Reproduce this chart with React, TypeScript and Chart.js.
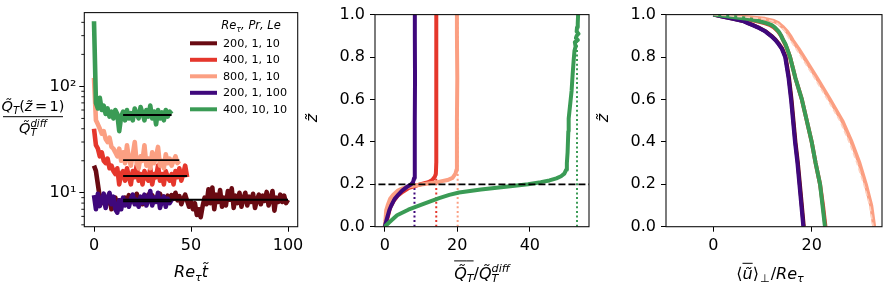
import React, { useEffect, useRef } from "react";
import { Chart, registerables } from "chart.js";
Chart.register(...registerables);

const FAM = "'DejaVu Sans', sans-serif";

// ---------------- Panel 1 data (time series, step 1 in Re_tau t) ----------------
const legendLabels = ["200, 1, 10", "400, 1, 10", "800, 1, 10", "200, 1, 100", "400, 10, 10"];
const seriesColors = ["#690a12", "#e5372c", "#fb9f82", "#3f087c", "#3a9b55"];
const timeStep = 1;

const q200_1_10 = [18, 16, 12, 9, 8, 9.5, 7.5, 8.5, 9, 7, 8, 9, 7.5, 8.5, 7.8, 8.2, 9, 8, 9.5, 8.6, 9.2, 8, 9.8, 8.5, 9, 7.8, 9.4, 8.3, 9.6, 8.8, 9.5, 8.2, 9, 8.4, 9.8, 8.7, 9.2, 8, 9.4, 8.6, 9.5, 8.8, 10, 8.5, 9.3, 7.8, 8.8, 9.6, 8.4, 7.4, 8.2, 7, 8, 6.2, 7, 5.9, 7.5, 9, 7.8, 10.8, 8, 11.2, 7, 9.6, 8.2, 10.6, 7.4, 9, 7.6, 10.4, 8.6, 11, 7.2, 9.4, 8, 10, 7.4, 8.8, 10, 7.6, 9.2, 8.2, 9.8, 7.2, 8.6, 9.6, 7.8, 9.4, 8.4, 10.2, 7.6, 8.8, 10.4, 6.8, 9, 8.2, 9.6, 8.2, 9.4, 8, 8.6];
const q400_1_10 = [40, 28, 26, 22, 24, 20, 19, 21, 17, 18, 16, 15, 17, 12, 15, 16, 13, 17, 14, 12, 16, 14, 18, 13, 15, 12, 16, 14, 13, 17, 12, 15, 14, 18, 13, 15, 12, 16, 14, 13, 15, 12, 16, 14, 17, 13, 15, 18, 14];
const q800_1_10 = [120, 48, 44, 40, 36, 38, 32, 30, 33, 27, 26, 24, 22, 26, 20, 24, 19, 28, 21, 18, 23, 30, 19, 17, 22, 20, 28, 18, 21, 17, 24, 19, 22, 27, 18, 20, 17, 23, 19, 21, 18, 20, 22, 19, 20];
const q200_1_100 = [9.5, 7, 9.8, 7.5, 8.5, 9.8, 7.2, 9, 10, 7.8, 9.2, 7, 6.5, 8.5, 7, 9, 7.6, 8.4, 7.4, 8.8, 9.6, 7.8, 8.6, 7.4, 9.2, 8, 9.6, 7.6, 8.6, 10.4, 7.6, 9, 8.2, 10, 7.2, 8.4, 9.2, 7.4, 8.8, 8, 8.6];
const q400_10_10 = [410, 70, 62, 78, 60, 66, 55, 62, 52, 58, 50, 60, 55, 38, 52, 58, 48, 60, 50, 56, 48, 62, 55, 50, 64, 56, 48, 60, 52, 66, 50, 58, 44, 60, 50, 57, 48, 60, 52, 58, 55];
const meanStart = [15, 15, 15, 15, 15];
const meanEnd = [100, 48, 44, 40, 40];
const meanValue = [8.6, 14.4, 20.3, 8.3, 53.8];
const logMajor = [10, 100];
const logMinor = [5, 6, 7, 8, 9, 20, 30, 40, 50, 60, 70, 80, 90, 200, 300, 400];

// ---------------- Panel 2 data (heat-flux profiles) ----------------
const zPurple2 = [0, 0.02, 0.05, 0.08, 0.1, 0.13, 0.15, 0.17, 0.19, 0.2, 0.21, 0.23, 0.25, 0.3, 0.5, 0.7, 0.9, 1.0];
const qPurple2 = [0, 0.3, 0.8, 1.3, 1.8, 2.7, 3.7, 4.8, 6.3, 7.3, 7.8, 8.1, 8.25, 8.3, 8.3, 8.35, 8.3, 8.3];
const zRed2 = [0, 0.02, 0.05, 0.09, 0.12, 0.145, 0.165, 0.183, 0.2, 0.21, 0.22, 0.235, 0.25, 0.3, 0.5, 0.7, 0.9, 1.0];
const qRed2 = [0, 0.4, 0.9, 1.5, 2.4, 3.5, 5.0, 6.7, 9.9, 12.0, 13.1, 13.8, 14.1, 14.2, 14.2, 14.25, 14.2, 14.2];
const zSalmon2 = [0, 0.03, 0.077, 0.1, 0.132, 0.15, 0.169, 0.18, 0.19, 0.2, 0.21, 0.22, 0.23, 0.25, 0.27, 0.3, 0.5, 0.7, 0.9, 1.0];
const qSalmon2 = [0, 0.2, 0.4, 0.8, 1.5, 2.3, 3.5, 4.8, 7.0, 10.5, 14.5, 17.3, 18.7, 19.5, 19.8, 19.9, 19.9, 20.0, 19.9, 19.9];
const zGreen2 = [0, 0.02, 0.054, 0.08, 0.108, 0.135, 0.15, 0.161, 0.175, 0.19, 0.2, 0.21, 0.218, 0.228, 0.238, 0.25, 0.268, 0.3, 0.35, 0.45, 0.51, 0.64, 0.72, 0.79, 0.83, 0.85, 0.87, 0.88, 0.89, 0.9, 0.91, 0.92, 0.94, 0.96, 1.0];
const qGreen2 = [0, 1.2, 3.4, 6.5, 10.7, 15.0, 17.8, 20.5, 26.5, 34.0, 39.5, 43.0, 45.4, 47.3, 48.6, 49.5, 50.0, 50.2, 50.4, 50.6, 50.7, 51.5, 51.8, 52.1, 52.3, 52.6, 52.4, 53.2, 52.7, 52.9, 53.4, 52.9, 53.0, 53.2, 53.3];
const dottedMeans = [8.2, 14.2, 20.1, 53.0];
const dottedColors = ["#3f087c", "#e5372c", "#fb9f82", "#3a9b55"];
const interfaceZ = 0.2;

// ---------------- Panel 3 data (velocity profiles) ----------------
const z3 = [1.0, 0.99, 0.98, 0.97, 0.96, 0.95, 0.94, 0.92, 0.9, 0.88, 0.86, 0.84, 0.8, 0.7, 0.6, 0.5, 0.4, 0.3, 0.2, 0.1, 0.0];
const uDarkRed3 = [0, 2.1, 4.1, 6.1, 7.1, 8.1, 9.1, 10.7, 11.8, 12.7, 13.4, 14.0, 14.7, 15.4, 15.9, 16.3, 16.7, 17.2, 17.6, 18.0, 18.4];
const uPurple3 = [0, 2.0, 4.0, 6.0, 7.0, 8.0, 9.0, 10.6, 11.7, 12.6, 13.3, 13.9, 14.6, 15.3, 15.8, 16.2, 16.6, 17.1, 17.5, 17.9, 18.3];
const uRed3 = [0, 3.3, 6.3, 8.7, 10.4, 11.6, 12.3, 13.2, 13.8, 14.2, 14.6, 15.0, 15.6, 16.7, 18.0, 19.0, 20.0, 20.8, 21.7, 22.3, 22.8];
const uGreen3 = [0, 3.5, 6.8, 9.2, 10.8, 11.9, 12.5, 13.3, 13.8, 14.2, 14.7, 15.0, 15.6, 16.7, 18.0, 19.0, 20.0, 20.8, 21.7, 22.2, 22.7];
const uSalmon3 = [0, 6.0, 10.5, 12.3, 13.2, 13.7, 14.2, 15.0, 15.6, 16.1, 16.7, 17.3, 18.4, 21.1, 23.7, 26.2, 28.1, 29.7, 31.0, 32.1, 32.7];
const uSalmonDash3 = [0, 5.8, 10.2, 12.0, 12.9, 13.4, 13.9, 14.6, 15.1, 15.6, 16.2, 16.8, 17.9, 20.6, 23.2, 25.7, 27.6, 29.2, 30.6, 31.8, 32.5];

// ---------------- helpers ----------------
type Part = { t: string; it?: boolean; pos?: "sub" | "sup"; stack?: boolean; bar?: number; gap?: number };

function drawRich(ctx: CanvasRenderingContext2D, parts: Part[], x: number, y: number, size: number, align: "left" | "center" | "right" = "center") {
  const fnt = (p: Part) => `${p.it ? "italic " : ""}${p.pos ? size * 0.7 : size}px ${FAM}`;
  const starts: number[] = [];
  const widths: number[] = [];
  let cx = 0;
  let lastStart = 0;
  for (const p of parts) {
    ctx.font = fnt(p);
    const w = ctx.measureText(p.t).width;
    const s = p.stack ? lastStart : cx + (p.gap || 0);
    starts.push(s);
    widths.push(w);
    cx = p.stack ? Math.max(cx, s + w) : s + w;
    lastStart = s;
  }
  const x0 = align === "center" ? x - cx / 2 : align === "right" ? x - cx : x;
  ctx.save();
  ctx.fillStyle = "#000";
  ctx.strokeStyle = "#000";
  ctx.textAlign = "left";
  ctx.textBaseline = "alphabetic";
  parts.forEach((p, i) => {
    ctx.font = fnt(p);
    const dy = p.pos === "sub" ? size * 0.24 : p.pos === "sup" ? -size * 0.42 : 0;
    ctx.fillText(p.t, x0 + starts[i], y + dy);
    if (p.bar) {
      ctx.lineWidth = Math.max(1, size * 0.06);
      ctx.beginPath();
      ctx.moveTo(x0 + starts[i], y - p.bar * size);
      ctx.lineTo(x0 + starts[i] + widths[i], y - p.bar * size);
      ctx.stroke();
    }
  });
  ctx.restore();
  return cx;
}

const tickFont = { family: FAM, size: 16 };

function axis(type: string, min: number, max: number, ticks: number[], fmt: (v: number) => string, fit: (s: any) => void, extra: any = {}) {
  return {
    type,
    min,
    max,
    afterBuildTicks: (s: any) => {
      s.ticks = ticks.map((v) => ({ value: v }));
    },
    afterFit: fit,
    ticks: { font: tickFont, color: "#000", padding: 5, autoSkip: false, maxRotation: 0, minRotation: 0, callback: (v: number) => fmt(v) },
    grid: { display: true, drawOnChartArea: false, drawTicks: true, tickLength: 5, tickColor: "#000", tickWidth: 1 },
    border: { display: false },
    ...extra,
  };
}

const fixW = (w: number) => (s: any) => {
  s.width = w;
};
const fixH = (h: number) => (s: any) => {
  s.height = h;
  s.paddingLeft = 0;
  s.paddingRight = 0;
};

function line(data: { x: number; y: number }[], color: string, width: number, order: number, extra: any = {}) {
  return {
    data,
    borderColor: color,
    backgroundColor: color,
    borderWidth: width,
    pointRadius: 0,
    showLine: true,
    fill: false,
    tension: 0,
    borderJoinStyle: "round",
    borderCapStyle: "butt",
    order,
    ...extra,
  };
}

const framePlugin = {
  id: "frame",
  afterDatasetsDraw(chart: any) {
    const { left, right, top, bottom } = chart.chartArea;
    const ctx = chart.ctx;
    ctx.save();
    ctx.strokeStyle = "#111";
    ctx.lineWidth = 1.1;
    ctx.strokeRect(left, top, right - left, bottom - top);
    ctx.restore();
  },
};

function baseOptions(padRight: number, scales: any) {
  return {
    responsive: false,
    animation: false,
    devicePixelRatio: 1,
    events: [],
    layout: { padding: { left: 0, right: padRight, top: 9.3, bottom: 0 } },
    plugins: { legend: { display: false }, tooltip: { enabled: false } },
    scales,
  };
}

const H = 294;
const BOTTOM = 226.7;

function config1(): any {
  const series = [q200_1_10, q400_1_10, q800_1_10, q200_1_100, q400_10_10];
  const orders = [5, 4, 3, 2, 1];
  const datasets: any[] = series.map((arr, i) => line(arr.map((v, k) => ({ x: k * timeStep, y: v })), seriesColors[i], 4.6, orders[i]));
  meanValue.forEach((m, i) => {
    datasets.push(line([{ x: meanStart[i], y: m }, { x: meanEnd[i], y: m }], "#000", 1.9, 0));
  });
  const plugin = {
    id: "p1text",
    afterDraw(chart: any) {
      const ctx: CanvasRenderingContext2D = chart.ctx;
      const ca = chart.chartArea;
      const ys = chart.scales.y;
      ctx.save();
      ctx.strokeStyle = "#000";
      ctx.lineWidth = 0.9;
      logMinor.forEach((v) => {
        const py = ys.getPixelForValue(v);
        if (py < ca.top || py > ca.bottom) return;
        ctx.beginPath();
        ctx.moveTo(ca.left - 3, py);
        ctx.lineTo(ca.left, py);
        ctx.stroke();
      });
      ctx.restore();
      drawRich(ctx, [
        { t: "Q\u0303", it: true },
        { t: "T", it: true, pos: "sub" },
        { t: "(" },
        { t: "z\u0303", it: true },
        { t: "=", gap: 2.5 },
        { t: "1", gap: 2.5 },
        { t: ")" },
      ], 33, 110.5, 14.5);
      ctx.save();
      ctx.strokeStyle = "#000";
      ctx.lineWidth = 1;
      ctx.beginPath();
      ctx.moveTo(3, 116.7);
      ctx.lineTo(63, 116.7);
      ctx.stroke();
      ctx.restore();
      drawRich(ctx, [
        { t: "Q\u0303", it: true },
        { t: "T", it: true, pos: "sub" },
        { t: "diff", it: true, pos: "sup", stack: true },
      ], 33, 133, 14.5);
      drawRich(ctx, [
        { t: "Re", it: true },
        { t: "\u03c4", it: true, pos: "sub" },
        { t: "t\u0303", it: true },
      ], (ca.left + ca.right) / 2, 276.7, 16);
      drawRich(ctx, [
        { t: "Re", it: true },
        { t: "\u03c4", it: true, pos: "sub" },
        { t: ", ", it: true },
        { t: "Pr", it: true },
        { t: ", ", it: true },
        { t: "Le", it: true },
      ], 251, 29, 11.5);
      ctx.save();
      legendLabels.forEach((lab, i) => {
        const y = 43.3 + i * 16.5;
        ctx.strokeStyle = seriesColors[i];
        ctx.lineWidth = 4;
        ctx.beginPath();
        ctx.moveTo(190, y);
        ctx.lineTo(217, y);
        ctx.stroke();
        ctx.fillStyle = "#000";
        ctx.font = `11.2px ${FAM}`;
        ctx.textBaseline = "middle";
        ctx.textAlign = "left";
        ctx.fillText(lab, 223, y + 0.5);
      });
      ctx.restore();
    },
  };
  const logLabel = (v: number) => (v === logMajor[0] ? "10\u00b9" : v === logMajor[1] ? "10\u00b2" : "");
  return {
    type: "scatter",
    data: { datasets },
    options: baseOptions(320 - 297.7, {
      x: axis("linear", -5, 105, [0, 50, 100], (v) => String(v), fixH(H - BOTTOM)),
      y: axis("logarithmic", 4.8, 494, [5, 6, 7, 8, 9, 10, 20, 30, 40, 50, 60, 70, 80, 90, 100, 200, 300, 400], logLabel, fixW(84.3), {
        ticks: { font: tickFont, color: "#000", padding: 3, autoSkip: false, callback: (v: number) => logLabel(v) },
        grid: {
          display: true,
          drawOnChartArea: false,
          drawTicks: true,
          tickLength: 5,
          tickWidth: 1,
          tickColor: (c: any) => (c.tick && logMajor.includes(c.tick.value) ? "#000" : "rgba(0,0,0,0)"),
        },
      }),
    }),
    plugins: [framePlugin, plugin],
  };
}

const zLabel = (ctx: CanvasRenderingContext2D, x: number, y: number) => {
  ctx.save();
  ctx.translate(x, y);
  ctx.rotate(-Math.PI / 2);
  drawRich(ctx, [{ t: "z\u0303", it: true }], 0, 5, 16);
  ctx.restore();
};

function config2(): any {
  const pts = (zs: number[], qs: number[]) => zs.map((z, i) => ({ x: qs[i], y: z }));
  const datasets: any[] = [
    line([{ x: -10, y: interfaceZ }, { x: 100, y: interfaceZ }], "#000", 1.8, 0, { borderDash: [7, 3] }),
    line(pts(zGreen2, qGreen2), "#3a9b55", 4, 1),
    line(pts(zPurple2, qPurple2), "#3f087c", 4, 2),
    line(pts(zSalmon2, qSalmon2), "#fb9f82", 4, 3),
    line(pts(zRed2, qRed2), "#e5372c", 4, 4),
  ];
  dottedMeans.forEach((m, i) => {
    datasets.push(line([{ x: m, y: 0 }, { x: m, y: 1 }], dottedColors[i], 2, 10 + i, { borderDash: [2, 2.6] }));
  });
  const plugin = {
    id: "p2text",
    afterDraw(chart: any) {
      const ctx = chart.ctx;
      const ca = chart.chartArea;
      zLabel(ctx, 311.7 - 300, 118);
      drawRich(ctx, [
        { t: "Q\u0303", it: true, bar: 1.1 },
        { t: "T", it: true, pos: "sub", bar: 1.1 },
        { t: "/" },
        { t: "Q\u0303", it: true },
        { t: "T", it: true, pos: "sub" },
        { t: "diff", it: true, pos: "sup", stack: true },
      ], (ca.left + ca.right) / 2, 278.5, 16);
    },
  };
  return {
    type: "scatter",
    data: { datasets },
    options: baseOptions(310 - 289, {
      x: axis("linear", -2.68, 56.3, [0, 20, 40], (v) => String(v), fixH(H - BOTTOM)),
      y: axis("linear", 0, 1, [0, 0.2, 0.4, 0.6, 0.8, 1.0], (v) => v.toFixed(1), fixW(75)),
    }),
    plugins: [framePlugin, plugin],
  };
}

function config3(): any {
  const pts = (us: number[]) => z3.map((z, i) => ({ x: us[i], y: z }));
  const datasets: any[] = [
    line(pts(uSalmonDash3), "#fdd3c3", 1.6, 0, { borderDash: [5, 3] }),
    line(pts(uGreen3), "#3a9b55", 4, 1),
    line(pts(uPurple3), "#3f087c", 4, 2),
    line(pts(uSalmon3), "#fb9f82", 4, 3),
    line(pts(uRed3), "#e5372c", 4, 4),
    line(pts(uDarkRed3), "#690a12", 4, 5),
  ];
  const plugin = {
    id: "p3text",
    afterDraw(chart: any) {
      const ctx = chart.ctx;
      const ca = chart.chartArea;
      zLabel(ctx, 602.7 - 590, 118);
      drawRich(ctx, [
        { t: "\u27e8" },
        { t: "u\u0303", it: true, bar: 0.95 },
        { t: "\u27e9" },
        { t: "\u22a5", pos: "sub", gap: 1 },
        { t: "/", gap: 1 },
        { t: "Re", it: true },
        { t: "\u03c4", it: true, pos: "sub" },
      ], (ca.left + ca.right) / 2 - 4, 278.5, 16);
    },
  };
  return {
    type: "scatter",
    data: { datasets },
    options: baseOptions(293 - 292, {
      x: axis("linear", -9.61, 34.29, [0, 20], (v) => String(v), fixH(H - BOTTOM)),
      y: axis("linear", 0, 1, [0, 0.2, 0.4, 0.6, 0.8, 1.0], (v) => v.toFixed(1), fixW(76)),
    }),
    plugins: [framePlugin, plugin],
  };
}

export default function App() {
  const r1 = useRef<HTMLCanvasElement>(null);
  const r2 = useRef<HTMLCanvasElement>(null);
  const r3 = useRef<HTMLCanvasElement>(null);
  useEffect(() => {
    const charts = [
      new Chart(r1.current as HTMLCanvasElement, config1()),
      new Chart(r2.current as HTMLCanvasElement, config2()),
      new Chart(r3.current as HTMLCanvasElement, config3()),
    ];
    return () => charts.forEach((c) => c.destroy());
  }, []);
  return (
    <div style={{ position: "fixed", left: 0, top: 0, width: 883, height: 294, background: "#fff", overflow: "hidden" }}>
      <canvas ref={r1} width={320} height={294} style={{ position: "absolute", left: 0, top: 0, width: 320, height: 294 }} />
      <canvas ref={r2} width={310} height={294} style={{ position: "absolute", left: 300, top: 0, width: 310, height: 294 }} />
      <canvas ref={r3} width={293} height={294} style={{ position: "absolute", left: 590, top: 0, width: 293, height: 294 }} />
    </div>
  );
}
